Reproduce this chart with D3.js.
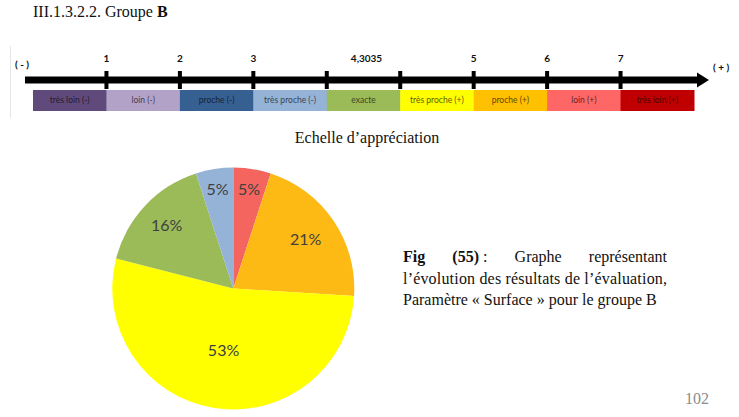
<!DOCTYPE html>
<html>
<head>
<meta charset="utf-8">
<script src="https://cdn.jsdelivr.net/npm/d3@7"></script>
<style>
  body { margin: 0; background: #ffffff; }
  svg { display: block; }
</style>
</head>
<body>
<div id="chart"></div>
<script>
// scale (échelle d'appréciation)
const scaleCats = ["très loin (-)", "loin (-)", "proche (-)", "très proche (-)", "exacte",
                   "très proche (+)", "proche (+)", "loin (+)", "très loin (+)"];
const scaleColors = ["#604a7b", "#b3a2c7", "#376092", "#95b3d7", "#9bbb59",
                     "#ffff00", "#ffc000", "#ff6666", "#c00000"];
// labels on the inner boundaries between the boxes
const boundaryLabels = ["1", "2", "3", "", "", "5", "6", "7"];
const exactValue = "4,3035";
const endLabels = ["( - )", "( + )"];

// pie (groupe B, paramètre Surface), clockwise from 12 o'clock
const pieCats = ["loin (+)", "proche (+)", "très proche (+)", "exacte", "très proche (-)"];
const pieValues = [5, 21, 53, 16, 5];
const pieColors = ["#f4655f", "#fdba14", "#ffff00", "#9bbb59", "#95b3d7"];

const W = 739, H = 417;
const serif = "'Liberation Serif', 'Times New Roman', serif";
const sans = "Lato, 'Open Sans', sans-serif";

const svg = d3.select("#chart").append("svg")
    .attr("width", W)
    .attr("height", H);

// heading
const head = svg.append("text")
    .attr("x", 33).attr("y", 17)
    .attr("font-family", serif).attr("font-size", 16)
    .attr("fill", "#111");
head.append("tspan").text("III.1.3.2.2. Groupe ");
head.append("tspan").attr("font-weight", "bold").text("B");

// faint frame of the scale picture
svg.append("line")
    .attr("x1", 10.5).attr("x2", 10.5).attr("y1", 46).attr("y2", 118)
    .attr("stroke", "#e6e6e6").attr("stroke-width", 1);

// ---- scale ----
const x = d3.scaleBand().domain(scaleCats).range([33, 694]).padding(0);
const axisY = 80;
const boxTop = 90, boxH = 21;

const boxes = svg.append("g").attr("class", "scale-boxes");
boxes.selectAll("rect")
    .data(scaleCats)
    .enter()
    .append("rect")
    .attr("x", d => x(d))
    .attr("y", boxTop)
    .attr("width", x.bandwidth() + 0.5)
    .attr("height", boxH)
    .attr("fill", (d, i) => scaleColors[i]);

boxes.selectAll("text")
    .data(scaleCats)
    .enter()
    .append("text")
    .attr("x", d => x(d) + x.bandwidth() / 2)
    .attr("y", boxTop + boxH / 2)
    .attr("dy", "0.35em")
    .attr("text-anchor", "middle")
    .attr("font-family", sans)
    .attr("font-size", 8.5)
    .attr("fill", (d, i) => d3.interpolateRgb(scaleColors[i], "#000")(0.62))
    .text(d => d);

// axis line with arrow
const axisStart = 25, axisEnd = 698, tip = 709;
svg.append("line")
    .attr("x1", axisStart).attr("x2", axisEnd)
    .attr("y1", axisY).attr("y2", axisY)
    .attr("stroke", "#000").attr("stroke-width", 7);
svg.append("path")
    .attr("d", `M${axisEnd - 1},${axisY - 7.5}L${tip},${axisY}L${axisEnd - 1},${axisY + 7.5}Z`)
    .attr("fill", "#000");

const boundaries = boundaryLabels.map((d, i) => ({ label: d, pos: x(scaleCats[i + 1]) }));
const ticks = svg.append("g").attr("class", "scale-ticks");
ticks.selectAll("rect")
    .data(boundaries)
    .enter()
    .append("rect")
    .attr("x", d => d.pos - 2)
    .attr("y", 71)
    .attr("width", 4)
    .attr("height", 18)
    .attr("fill", "#000");
ticks.selectAll("text")
    .data(boundaries.filter(d => d.label !== ""))
    .enter()
    .append("text")
    .attr("x", d => d.pos)
    .attr("y", 62)
    .attr("text-anchor", "middle")
    .attr("font-family", sans).attr("font-weight", "bold").attr("font-size", 10)
    .attr("fill", "#111")
    .text(d => d.label);

svg.append("text")
    .attr("x", x("exacte") + x.bandwidth() / 2 + 3)
    .attr("y", 62)
    .attr("text-anchor", "middle")
    .attr("font-family", sans).attr("font-weight", "bold").attr("font-size", 10)
    .attr("fill", "#111")
    .text(exactValue);

svg.append("text")
    .attr("x", 15).attr("y", 68)
    .attr("font-family", sans).attr("font-weight", "bold").attr("font-size", 10)
    .attr("fill", "#111")
    .text(endLabels[0]);
svg.append("text")
    .attr("x", 713).attr("y", 71)
    .attr("font-family", sans).attr("font-weight", "bold").attr("font-size", 10)
    .attr("fill", "#111")
    .text(endLabels[1]);

svg.append("text")
    .attr("x", 367).attr("y", 143)
    .attr("text-anchor", "middle")
    .attr("font-family", serif).attr("font-size", 16)
    .attr("fill", "#111")
    .text("Echelle d’appréciation");

// ---- pie ----
const cx = 233.3, cy = 288.5, r = 121;
const total = d3.sum(pieValues);
const pie = d3.pie().sort(null).value(d => d)(pieValues);
const arc = d3.arc().innerRadius(0).outerRadius(r);

const pg = svg.append("g").attr("transform", `translate(${cx},${cy})`);
pg.selectAll("path")
    .data(pie)
    .enter()
    .append("path")
    .attr("d", arc)
    .attr("fill", (d, i) => pieColors[i]);

// excel-like label placement: small slices near the rim, big ones further in
const labelArc = d => {
    const lr = r * (0.86 - 0.65 * d.value / total);
    return d3.arc().innerRadius(lr).outerRadius(lr).centroid(d);
};
pg.selectAll("text")
    .data(pie)
    .enter()
    .append("text")
    .attr("transform", d => `translate(${labelArc(d)})`)
    .attr("dy", "0.35em")
    .attr("text-anchor", "middle")
    .attr("font-family", sans).attr("font-size", 16)
    .attr("fill", "#404040")
    .text(d => d3.format(".0f")(d.value / total * 100) + "%");

// ---- caption ----
const capX = 403, capRight = 667;
const line1 = [
    { t: "Fig", b: true },
    { t: "(55)", b: true, tail: " :" },
    { t: "Graphe" },
    { t: "représentant" }
];
const l1 = svg.append("g").attr("class", "caption-line1");
const widths = line1.map(w => {
    const t = l1.append("text")
        .attr("font-family", serif).attr("font-size", 16).attr("fill", "#111");
    t.append("tspan").attr("font-weight", w.b ? "bold" : null).text(w.t);
    if (w.tail) t.append("tspan").text(w.tail);
    w.node = t;
    return t.node().getComputedTextLength();
});
const gap = (capRight - capX - d3.sum(widths)) / (line1.length - 1);
let cursor = capX;
line1.forEach((w, i) => {
    w.node.attr("x", cursor).attr("y", 262);
    cursor += widths[i] + gap;
});

svg.append("text")
    .attr("x", capX).attr("y", 284)
    .attr("font-family", serif).attr("font-size", 16).attr("fill", "#111")
    .attr("textLength", capRight - capX).attr("lengthAdjust", "spacing")
    .text("l’évolution des résultats de l’évaluation,");
svg.append("text")
    .attr("x", capX).attr("y", 305)
    .attr("font-family", serif).attr("font-size", 16).attr("fill", "#111")
    .text("Paramètre « Surface » pour le groupe B");

// page number
svg.append("text")
    .attr("x", 709).attr("y", 404)
    .attr("text-anchor", "end")
    .attr("font-family", serif).attr("font-size", 16)
    .attr("fill", "#8c8c8c")
    .text("102");
</script>
</body>
</html>
